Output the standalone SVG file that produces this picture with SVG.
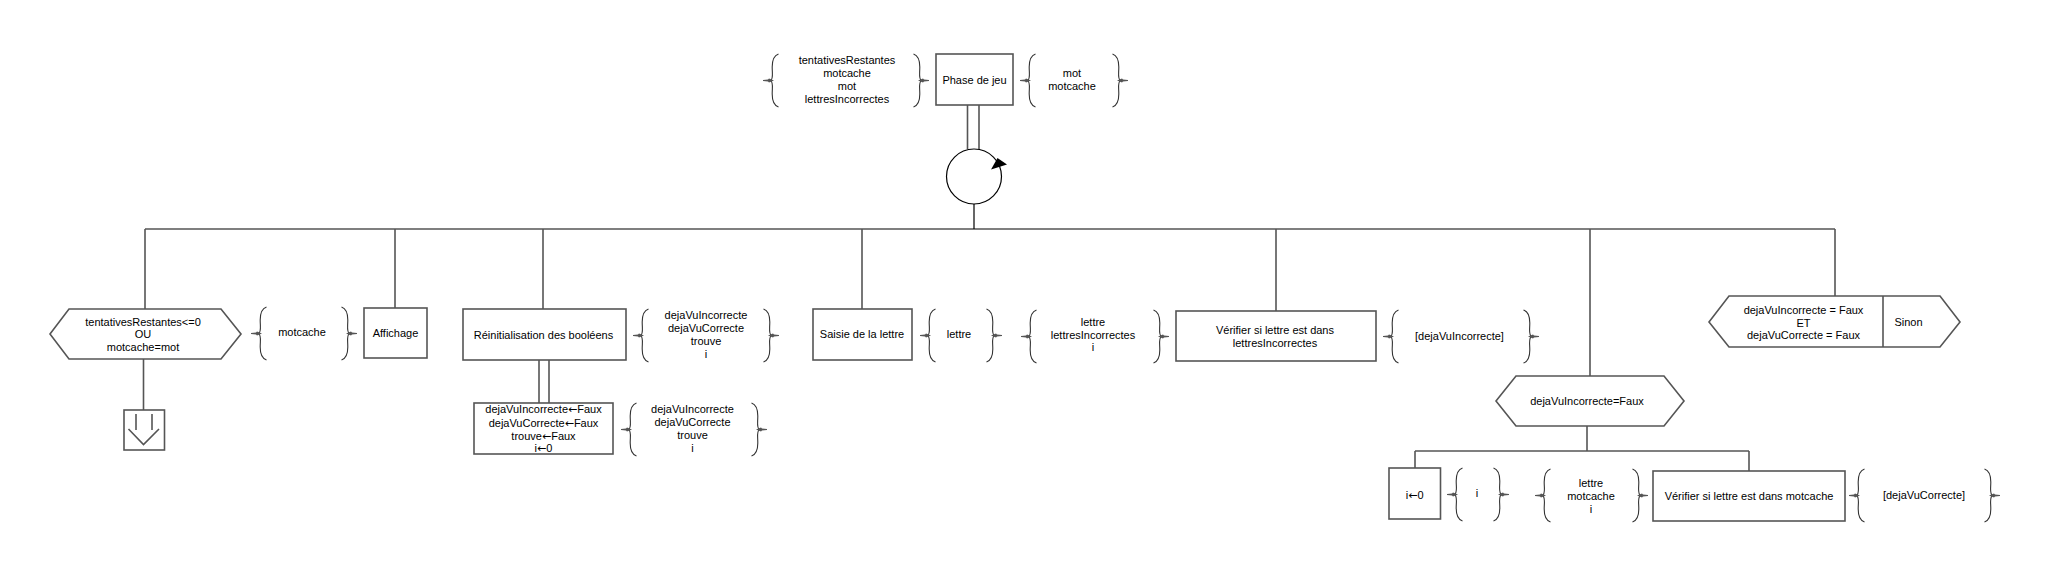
<svg xmlns="http://www.w3.org/2000/svg" xmlns:xlink="http://www.w3.org/1999/xlink" width="2045" height="566" viewBox="0 0 2045 566">
<style>
text{font-family:"Liberation Sans",Arial,sans-serif;font-size:11px;fill:#000;text-anchor:middle}
.ar{font-family:"DejaVu Sans",sans-serif}
.box{fill:#fff;stroke:#555;stroke-width:1.6}
.ln{fill:none;stroke:#555;stroke-width:1.6}
.blk{fill:none;stroke:#000;stroke-width:1.2}
.br{fill:none;stroke:#333;stroke-width:1.1}
.am{fill:#555;stroke:none}
</style>
<defs>
<g id="lb">
<path class="br" d="M8.5,0 C4,1.5 2.2,6 2.2,13 C2.2,20 3.5,25 0.5,26.5 C3.5,28 2.2,33 2.2,40 C2.2,47 4,51.5 8.5,53"/>
<path class="am" d="M-7,25.9 L-2,25.5 L-1,24.4 L4,26.5 L-1,28.6 L-2,27.5 L-7,27.1 Z"/>
</g>
</defs>
<rect width="2045" height="566" fill="#fff"/>

<g id="connectors">
<line class="ln" x1="967.5" y1="105" x2="967.5" y2="149"/>
<line class="ln" x1="979" y1="105" x2="979" y2="149"/>
<line class="blk" x1="974" y1="204" x2="974" y2="229"/>
<line class="blk" x1="145" y1="229" x2="1835" y2="229"/>
<line class="ln" x1="145" y1="229" x2="145" y2="309"/>
<line class="ln" x1="395" y1="229" x2="395" y2="308"/>
<line class="ln" x1="543" y1="229" x2="543" y2="309"/>
<line class="ln" x1="862" y1="229" x2="862" y2="309"/>
<line class="ln" x1="1276" y1="229" x2="1276" y2="311"/>
<line class="ln" x1="1590" y1="229" x2="1590" y2="376"/>
<line class="ln" x1="1835" y1="229" x2="1835" y2="296"/>
<line class="ln" x1="143.5" y1="359" x2="143.5" y2="410"/>
<line class="ln" x1="539" y1="360" x2="539" y2="403"/>
<line class="ln" x1="549" y1="360" x2="549" y2="403"/>
<line class="ln" x1="1587" y1="426" x2="1587" y2="451"/>
<line class="ln" x1="1415" y1="451" x2="1749" y2="451"/>
<line class="ln" x1="1415" y1="451" x2="1415" y2="468"/>
<line class="ln" x1="1749" y1="451" x2="1749" y2="471"/>
</g>

<g id="phase">
<use xlink:href="#lb" transform="translate(770,54)"/>
<use xlink:href="#lb" transform="translate(922,54) scale(-1,1)"/>
<text x="847" y="64">tentativesRestantes</text>
<text x="847" y="77">motcache</text>
<text x="847" y="90">mot</text>
<text x="847" y="103">lettresIncorrectes</text>
<rect class="box" x="936" y="54" width="77" height="51"/>
<text x="974.5" y="84">Phase de jeu</text>
<use xlink:href="#lb" transform="translate(1027,54)"/>
<use xlink:href="#lb" transform="translate(1121,54) scale(-1,1)"/>
<text x="1072" y="77">mot</text>
<text x="1072" y="90">motcache</text>
</g>

<g id="loop">
<circle cx="974" cy="176.5" r="27.5" fill="#fff" stroke="#000" stroke-width="1.2"/>
<polygon points="991,169.5 997.5,158 1007,164.5" fill="#000"/>
</g>

<g id="cond1">
<polygon class="box" points="50,334 69,309 221,309 241,334 221,359 69,359"/>
<text x="143" y="325.5">tentativesRestantes&lt;=0</text>
<text x="143" y="338">OU</text>
<text x="143" y="351">motcache=mot</text>
</g>

<g id="exit">
<rect class="box" x="124" y="410" width="40.5" height="40"/>
<line class="ln" x1="136" y1="414" x2="136" y2="430"/>
<line class="ln" x1="152" y1="414" x2="152" y2="430"/>
<polyline class="ln" points="128.5,429 143.5,444.5 159,429"/>
</g>

<g id="aff-data">
<use xlink:href="#lb" transform="translate(258,307)"/>
<use xlink:href="#lb" transform="translate(350,307) scale(-1,1)"/>
<text x="302" y="336">motcache</text>
</g>

<g id="affichage">
<rect class="box" x="364" y="308" width="63" height="50"/>
<text x="395.5" y="337">Affichage</text>
</g>

<g id="reinit">
<rect class="box" x="463" y="309" width="163" height="51"/>
<text x="543.5" y="339">Réinitialisation des booléens</text>
<use xlink:href="#lb" transform="translate(640,309)"/>
<use xlink:href="#lb" transform="translate(772,309) scale(-1,1)"/>
<text x="706" y="319">dejaVuIncorrecte</text>
<text x="706" y="332">dejaVuCorrecte</text>
<text x="706" y="345">trouve</text>
<text x="706" y="358">i</text>
</g>

<g id="assign">
<rect class="box" x="474" y="403" width="139" height="51"/>
<text x="543.5" y="413">dejaVuIncorrecte<tspan class="ar">←</tspan>Faux</text>
<text x="543.5" y="426.5">dejaVuCorrecte<tspan class="ar">←</tspan>Faux</text>
<text x="543.5" y="439.5">trouve<tspan class="ar">←</tspan>Faux</text>
<text x="543.5" y="452">i<tspan class="ar">←</tspan>0</text>
<use xlink:href="#lb" transform="translate(628,403)"/>
<use xlink:href="#lb" transform="translate(760,403) scale(-1,1)"/>
<text x="692.5" y="413">dejaVuIncorrecte</text>
<text x="692.5" y="426">dejaVuCorrecte</text>
<text x="692.5" y="439">trouve</text>
<text x="692.5" y="452">i</text>
</g>

<g id="saisie">
<rect class="box" x="813" y="309" width="99" height="51"/>
<text x="862" y="338">Saisie de la lettre</text>
<use xlink:href="#lb" transform="translate(927,309)"/>
<use xlink:href="#lb" transform="translate(995,309) scale(-1,1)"/>
<text x="959" y="338">lettre</text>
</g>

<g id="verif1">
<use xlink:href="#lb" transform="translate(1028,310)"/>
<use xlink:href="#lb" transform="translate(1162,310) scale(-1,1)"/>
<text x="1093" y="326">lettre</text>
<text x="1093" y="339">lettresIncorrectes</text>
<text x="1093" y="351">i</text>
<rect class="box" x="1176" y="311" width="200" height="50"/>
<text x="1275" y="334">Vérifier si lettre est dans</text>
<text x="1275" y="346.5">lettresIncorrectes</text>
<use xlink:href="#lb" transform="translate(1390,310)"/>
<use xlink:href="#lb" transform="translate(1532,310) scale(-1,1)"/>
<text x="1459.5" y="339.5">[dejaVuIncorrecte]</text>
</g>

<g id="cond2">
<polygon class="box" points="1496,401 1516,376 1664,376 1684,401 1664,426 1516,426"/>
<text x="1587" y="405">dejaVuIncorrecte=Faux</text>
</g>

<g id="init-i">
<rect class="box" x="1389" y="468" width="51.5" height="51"/>
<text x="1414.7" y="499">i<tspan class="ar">←</tspan>0</text>
<use xlink:href="#lb" transform="translate(1454,468)"/>
<use xlink:href="#lb" transform="translate(1502,468) scale(-1,1)"/>
<text x="1477" y="497">i</text>
</g>

<g id="verif2">
<use xlink:href="#lb" transform="translate(1542,469)"/>
<use xlink:href="#lb" transform="translate(1641,469) scale(-1,1)"/>
<text x="1591" y="487">lettre</text>
<text x="1591" y="500">motcache</text>
<text x="1591" y="513">i</text>
<rect class="box" x="1653" y="471" width="192" height="50"/>
<text x="1749" y="500">Vérifier si lettre est dans motcache</text>
<use xlink:href="#lb" transform="translate(1856,469)"/>
<use xlink:href="#lb" transform="translate(1993,469) scale(-1,1)"/>
<text x="1924" y="499">[dejaVuCorrecte]</text>
</g>

<g id="cond3">
<polygon class="box" points="1709,322 1729,296 1940,296 1960,322 1940,347 1729,347"/>
<line class="ln" x1="1883" y1="296" x2="1883" y2="347"/>
<text x="1803.5" y="314">dejaVuIncorrecte = Faux</text>
<text x="1803.5" y="326.5">ET</text>
<text x="1803.5" y="339">dejaVuCorrecte = Faux</text>
<text x="1908.5" y="326">Sinon</text>
</g>
</svg>
